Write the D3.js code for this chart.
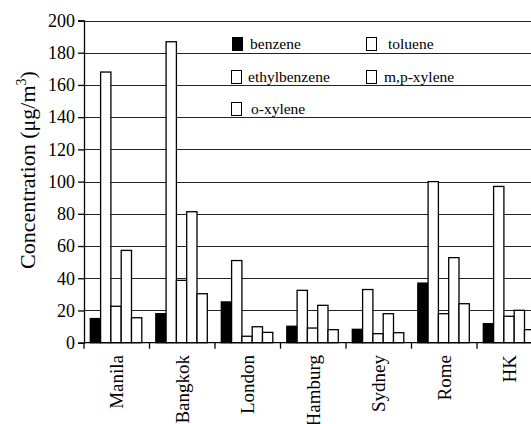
<!DOCTYPE html>
<html>
<head>
<meta charset="utf-8">
<script src="https://cdn.jsdelivr.net/npm/d3@7"></script>
<style>
html,body{margin:0;padding:0;background:#fff;overflow:hidden;}
svg{display:block;}
</style>
</head>
<body>
<svg id="chart" width="531" height="424"></svg>
<script>
const categories = ["Manila","Bangkok","London","Hamburg","Sydney","Rome","HK"];
const seriesNames = ["benzene","toluene","ethylbenzene","m,p-xylene","o-xylene"];
const benzene      = [15, 18, 25.3, 10.2, 8.3, 37, 11.8];
const toluene      = [168, 186.8, 51, 32.5, 33, 100, 97];
const ethylbenzene = [22.6, 38.7, 4, 9.1, 5.6, 18, 16.4];
const mpXylene     = [57.3, 81.3, 9.9, 23.2, 18, 52.8, 20.1];
const oXylene      = [15.5, 30.4, 6.4, 8.1, 6.2, 24.2, 8.1];
const yTicks = [0,20,40,60,80,100,120,140,160,180,200];
const seriesFill = ["#000","#fff","#fff","#fff","#fff"];

const FONT = "'Liberation Serif','Times New Roman',serif";
const values = [benzene, toluene, ethylbenzene, mpXylene, oXylene];
const svg = d3.select("#chart");

const left = 84, band = 65.5;
const x0 = d3.scaleBand().domain(categories).range([left, left + band*categories.length]).paddingInner(0).paddingOuter(0);
const x1 = d3.scaleBand().domain(seriesNames).range([6.3, 57.8]).padding(0);
const y = d3.scaleLinear().domain([0,200]).range([342.7, 20.5]);

// gridlines
svg.append("g").selectAll("line").data(yTicks.filter(d=>d>0)).join("line")
  .attr("x1", left).attr("x2", 545)
  .attr("y1", d=>Math.round(y(d))+0.5).attr("y2", d=>Math.round(y(d))+0.5)
  .attr("stroke", "#222").attr("stroke-width", 1.2);

// legend
const legendItems = [
  {name:"benzene", sx:232, tx:250, cy:44},
  {name:"toluene", sx:366, tx:388, cy:44},
  {name:"ethylbenzene", sx:231, tx:248, cy:77},
  {name:"m,p-xylene", sx:366, tx:384, cy:77},
  {name:"o-xylene", sx:231, tx:251, cy:109}
];
const lg = svg.append("g");
legendItems.forEach(it=>{
  const i = seriesNames.indexOf(it.name);
  lg.append("rect").attr("x", it.sx+0.5).attr("y", it.cy-6.5).attr("width", 10).attr("height", 13)
    .attr("fill", seriesFill[i]).attr("stroke", "#000").attr("stroke-width", 1);
  lg.append("text").attr("x", it.tx).attr("y", it.cy+4.5)
    .style("font-size", "15.5px").style("font-family", FONT).text(it.name);
});

// bars
const gBars = svg.append("g");
categories.forEach((c, ci)=>{
  seriesNames.forEach((s, si)=>{
    const v = values[si][ci];
    gBars.append("rect")
      .attr("x", x0(c) + x1(s))
      .attr("y", y(v))
      .attr("width", x1.bandwidth())
      .attr("height", y(0) - y(v))
      .attr("fill", seriesFill[si])
      .attr("stroke", "#000").attr("stroke-width", 1.3);
  });
});

// y axis
const yAxis = d3.axisLeft(y).tickValues(yTicks).tickSize(6).tickPadding(3).tickFormat(d3.format("d"));
const gy = svg.append("g").attr("transform", `translate(${left},0)`).call(yAxis);
gy.attr("font-family", null).attr("font-size", null);
gy.select(".domain").attr("stroke", "#000").attr("stroke-width", 1.3);
gy.selectAll(".tick line").attr("stroke", "#000").attr("stroke-width", 1.3);
gy.selectAll(".tick text").style("font-size", "18px").style("font-family", FONT).attr("fill", "#000");

// x axis baseline and ticks at category boundaries
svg.append("line").attr("x1", left).attr("x2", 545).attr("y1", y(0)).attr("y2", y(0)).attr("stroke", "#000").attr("stroke-width", 1.3);
svg.append("g").selectAll("line").data(categories).join("line")
  .attr("x1", d=>x0(d)).attr("x2", d=>x0(d))
  .attr("y1", y(0)).attr("y2", y(0)+6)
  .attr("stroke", "#000").attr("stroke-width", 1.3);

// x labels
svg.append("g").selectAll("text").data(categories).join("text")
  .attr("transform", d=>`translate(${x0(d)+x0.bandwidth()/2+6.5},355) rotate(-90)`)
  .attr("text-anchor", "end").style("font-size", "19px").style("font-family", FONT).text(d=>d);

// y title
const yt = svg.append("text")
  .attr("transform", "translate(35,170) rotate(-90)")
  .attr("text-anchor", "middle").style("font-size", "22px").style("font-family", FONT);
yt.append("tspan").text("Concentration (\u03bcg/m");
yt.append("tspan").style("font-size", "14px").attr("dy", -9).text("3");
yt.append("tspan").attr("dy", 9).text(")");
</script>
</body>
</html>
